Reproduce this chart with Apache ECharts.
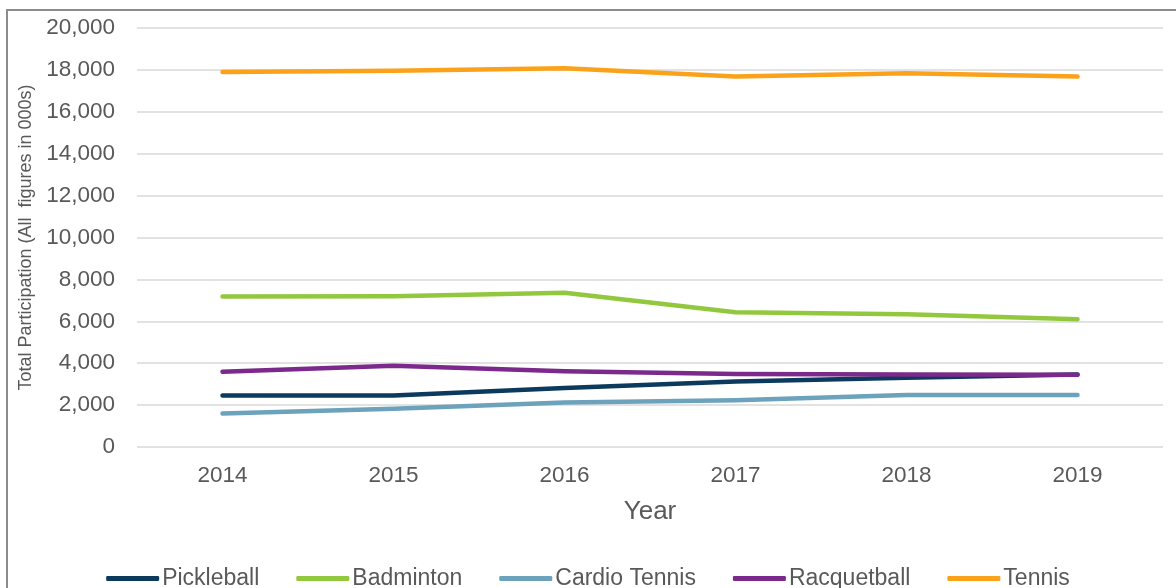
<!DOCTYPE html>
<html>
<head>
<meta charset="utf-8">
<script src="https://cdn.jsdelivr.net/npm/echarts@6/dist/echarts.min.js"></script>
<style>
  html, body { margin: 0; padding: 0; background: #ffffff; }
  #chart { width: 1176px; height: 588px; }
</style>
</head>
<body>
<div id="chart"></div>
<script>
// Participation by racquet sport, 2014–2019 (thousands)
const years = ['2014', '2015', '2016', '2017', '2018', '2019'];
const pickleball   = [2460, 2460, 2820, 3130, 3300, 3460];
const badminton    = [7180, 7200, 7360, 6430, 6340, 6100];
const cardioTennis = [1600, 1820, 2120, 2230, 2480, 2480];
const racquetball  = [3590, 3880, 3610, 3480, 3460, 3450];
const tennis       = [17900, 17960, 18080, 17680, 17840, 17680];

const seriesNames  = ['Pickleball', 'Badminton', 'Cardio Tennis', 'Racquetball', 'Tennis'];
const seriesValues = [pickleball, badminton, cardioTennis, racquetball, tennis];
const seriesColors = ['#0c3a5c', '#92c83e', '#6ca2bc', '#7b2a8b', '#fba21a'];

const textColor = '#595959';
const font = 'Liberation Sans, Arial, sans-serif';

const chart = echarts.init(document.getElementById('chart'), null, { renderer: 'canvas' });

chart.setOption({
  backgroundColor: '#ffffff',
  animation: false,
  textStyle: { fontFamily: font },
  graphic: [{
    type: 'rect',
    shape: { x: 7, y: 10, width: 1400, height: 800 },
    style: { fill: 'none', stroke: '#8c8c8c', lineWidth: 2 },
    silent: true
  }],
  grid: { left: 137, right: 13, top: 28, bottom: 141 },
  legend: {
    top: 562,
    left: 'center',
    itemWidth: 53,
    itemHeight: 5,
    itemGap: 37,
    icon: 'roundRect',
    textStyle: { fontSize: 23, color: textColor, fontFamily: font, padding: [0, 0, 0, -2] },
    data: seriesNames
  },
  xAxis: {
    type: 'category',
    data: years,
    boundaryGap: true,
    name: 'Year',
    nameLocation: 'middle',
    nameGap: 52,
    nameTextStyle: { fontSize: 26, color: textColor, fontFamily: font },
    axisLine: { show: false },
    axisTick: { show: false },
    axisLabel: { fontSize: 22.5, color: textColor, margin: 17, fontFamily: font }
  },
  yAxis: {
    type: 'value',
    min: 0,
    max: 20000,
    interval: 2000,
    name: 'Total Participation (All  figures in 000s)',
    nameLocation: 'middle',
    nameGap: 99,
    nameTextStyle: { fontSize: 18, color: textColor, fontFamily: font },
    axisLine: { show: false },
    axisTick: { show: false },
    splitLine: { lineStyle: { color: '#d9d9d9', width: 1.5 } },
    axisLabel: {
      fontSize: 22.5,
      color: textColor,
      margin: 22,
      fontFamily: font,
      formatter: v => v.toLocaleString('en-US')
    }
  },
  series: seriesNames.map((name, i) => ({
    name: name,
    type: 'line',
    data: seriesValues[i],
    showSymbol: false,
    symbol: 'none',
    color: seriesColors[i],
    lineStyle: { width: 4.5, color: seriesColors[i], cap: 'round', join: 'round' }
  }))
});
</script>
</body>
</html>
